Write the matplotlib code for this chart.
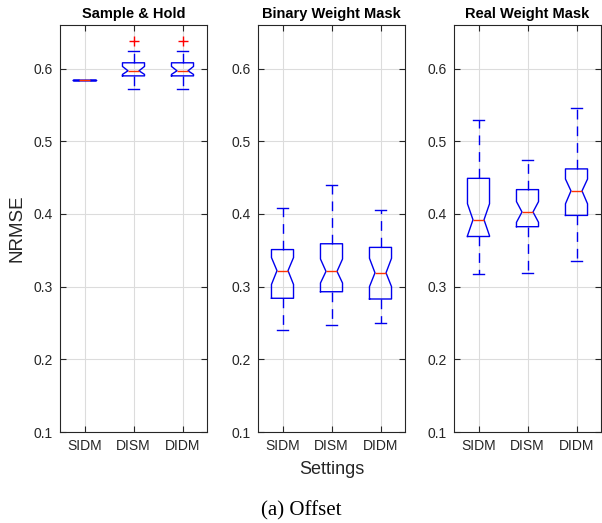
import matplotlib
matplotlib.use('Agg')
import matplotlib.pyplot as plt

plt.rcParams['font.family'] = ['Liberation Sans', 'DejaVu Sans']

settings = ['SIDM', 'DISM', 'DIDM']
titles = ['Sample & Hold', 'Binary Weight Mask', 'Real Weight Mask']
yticks = [0.1, 0.2, 0.3, 0.4, 0.5, 0.6]

# box statistics: whislo, q1, cilo, med, cihi, q3, whishi
whislo = [[0.585, 0.572, 0.572], [0.240, 0.247, 0.250], [0.318, 0.319, 0.335]]
q1 = [[0.585, 0.590, 0.590], [0.284, 0.293, 0.283], [0.369, 0.3825, 0.398]]
cilo = [[0.585, 0.592, 0.592], [0.303, 0.305, 0.300], [0.370, 0.3885, 0.414]]
med = [[0.585, 0.597, 0.597], [0.322, 0.321, 0.319], [0.392, 0.4027, 0.4317]]
cihi = [[0.585, 0.603, 0.603], [0.340, 0.338, 0.339], [0.414, 0.417, 0.448]]
q3 = [[0.585, 0.608, 0.608], [0.351, 0.359, 0.354], [0.449, 0.4335, 0.462]]
whishi = [[0.585, 0.624, 0.624], [0.408, 0.4395, 0.4055], [0.529, 0.474, 0.546]]
fliers = [[[], [0.638], [0.638]], [[], [], []], [[], [], []]]

fig = plt.figure(figsize=(6.02, 5.23), dpi=100)
lefts = [60, 258, 454]
W, H = 602, 523
axes = []
for i in range(3):
    ax = fig.add_axes([lefts[i] / W, 1 - 432 / H, 147 / W, (432 - 25) / H])
    stats = []
    for j in range(3):
        stats.append(dict(med=med[i][j], q1=q1[i][j], q3=q3[i][j],
                          whislo=whislo[i][j], whishi=whishi[i][j],
                          cilo=cilo[i][j], cihi=cihi[i][j],
                          fliers=fliers[i][j], label=settings[j]))
    ax.bxp(stats, positions=[1, 2, 3], widths=0.45, capwidths=0.24,
           shownotches=True,
           boxprops=dict(color='#0000ee', linewidth=1.0),
           whiskerprops=dict(color='#0000ee', linewidth=1.0, linestyle=(0, (7, 5))),
           capprops=dict(color='#0000ee', linewidth=1.0),
           medianprops=dict(color='#ff3300', linewidth=1.0),
           flierprops=dict(marker='+', markeredgecolor='red', markersize=7,
                           markeredgewidth=1.0))
    ax.set_xlim(0.5, 3.5)
    ax.set_ylim(0.1, 0.66)
    ax.set_yticks(yticks)
    ax.set_yticklabels(['%.1f' % v for v in yticks])
    ax.set_xticks([1, 2, 3])
    ax.set_xticklabels(settings)
    ax.grid(True, color='#dcdcdc', linewidth=0.8)
    ax.set_axisbelow(True)
    ax.tick_params(direction='in', top=True, right=True, length=4,
                   labelsize=10, colors='#262626', pad=5)
    for s in ax.spines.values():
        s.set_color('#262626')
        s.set_linewidth(0.8)
    ax.set_title(titles[i], fontsize=10.5, fontweight='bold', pad=5)
    axes.append(ax)

axes[0].set_ylabel('NRMSE', fontsize=13.5, color='#262626', labelpad=6)
axes[1].set_xlabel('Settings', fontsize=13, color='#262626', labelpad=6)
fig.text(0.5, 1 - 511 / H, '(a) Offset', ha='center', va='center',
         fontsize=15, family=['Liberation Serif', 'DejaVu Serif'])

fig.savefig('out.png', dpi=100)
